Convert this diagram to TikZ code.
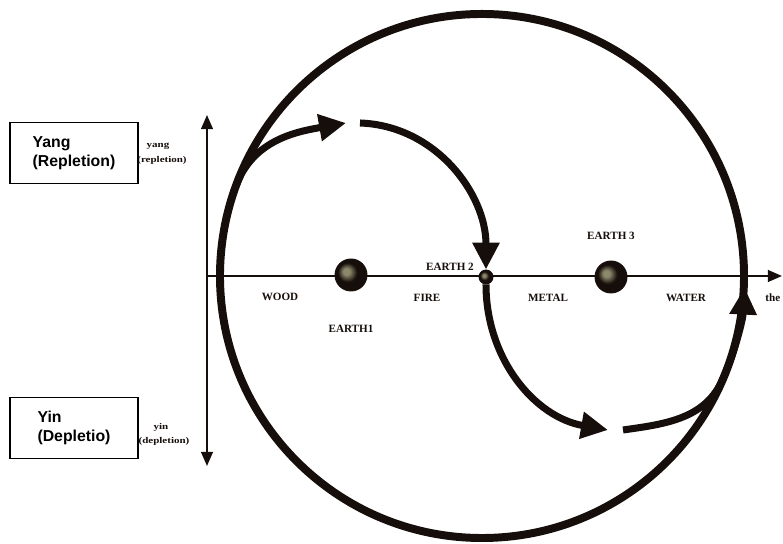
\documentclass[tikz,border=0pt]{standalone}
\usepackage{fontspec}
\setmainfont{Liberation Serif}
\setsansfont{Liberation Sans}
\newfontfamily\axisfont[FakeStretch=1.25]{Liberation Serif}
\usetikzlibrary{arrows.meta,positioning}
\definecolor{Ink}{RGB}{22,14,10}
\definecolor{Glint}{RGB}{140,136,108}
\pgfdeclareradialshading{earthball}{\pgfpoint{-8bp}{6bp}}{color(0bp)=(Glint); color(5bp)=(Glint); color(15bp)=(Ink); color(50bp)=(Ink)}
\tikzset{
  wheelring/.style={circle, draw=Ink, line width=6.8pt, minimum size=15.72cm, inner sep=0pt, outer sep=0pt},
  earthdot/.style={circle, shading=earthball, draw=Ink, line width=0.8pt, inner sep=0pt, minimum size=0.96cm},
  elem/.style={font=\fontsize{9.5}{11}\selectfont\bfseries, text=Ink, inner sep=1pt},
  axislab/.style={font=\axisfont\fontsize{7.5}{8}\selectfont\bfseries, text=Ink, inner sep=0pt},
  sidebox/.style={draw=black, line width=1.4pt, fill=white, align=left, text=black,
    font=\sffamily\bfseries\fontsize{13.5}{16}\selectfont, minimum width=3.84cm, minimum height=1.83cm, inner sep=2pt},
  axisline/.style={draw=Ink, line width=1.6pt},
  cyclearr/.style={-{Triangle[length=23pt,width=22pt]}, draw=Ink, line width=6pt},
}

\begin{document}
\begin{tikzpicture}[x=0.03cm, y=0.03cm]
\useasboundingbox (0,0) rectangle (783,544);

% ================= axes =================
\coordinate (origin) at (207,268);
\coordinate (yangend) at (207,429);
\coordinate (yinend) at (207,78);
\coordinate (thetaend) at (782,268);
\draw[axisline, {Triangle[length=12pt,width=10pt]}-{Triangle[length=12pt,width=10pt]}] (yinend) -- (yangend);
\draw[axisline, -{Triangle[length=12pt,width=10pt]}] (origin) -- (thetaend);

% ================= the wheel and the earth points =================
\node[wheelring] (wheel) at (482,268) {};
\node[earthdot] (earthA) at (351,269) {};
\node[earthdot, minimum size=0.42cm] (earthB) at (486,267) {};
\node[earthdot] (earthC) at (611,267) {};

% element labels along the axis
\node[elem] (wood) at (280,247) {WOOD};
\node[elem] (fire) at (427,246) {FIRE};
\node[elem] (metal) at (548,246) {METAL};
\node[elem] (water) at (686,246) {WATER};
\node[elem, below=0.98cm of earthA] (earthAlab) {EARTH1};
\node[elem] (earthBlab) at (450,277) {EARTH 2};
\node[elem, above=0.6cm of earthC] (earthClab) {EARTH 3};
\node[elem, anchor=west] (thetalab) at (764,246) {the};

% ================= the S-shaped cycle =================
\coordinate (yangtip) at (346,421);
\coordinate (yangtop) at (360,421);
\coordinate (yintip) at (608,114);
\coordinate (yinlow) at (623,114);

\draw[cyclearr] (wheel.160) to[out=70,in=190] (yangtip);
\draw[cyclearr] (yangtop) to[out=-2,in=90] (earthB.north);
\draw[cyclearr] (earthB.south) to[out=-90,in=170] (yintip);
\draw[cyclearr] (yinlow) to[out=8,in=-113.5] (wheel.-23.5)
  arc[start angle=-23.5, end angle=-3, radius=262];

% ================= yang / yin side =================
\node[axislab] (yanglab) at (158,398) {yang};
\node[axislab] (replab) at (162,384) {(repletion)};
\node[axislab] (yinlab) at (161,117) {yin};
\node[axislab] (deplab) at (164,103) {(depletion)};

\node[sidebox] (yangbox) at (74,391) {Yang\\(Repletion)};
\node[sidebox] (yinbox) at (74,116) {Yin\\(Depletio)};

\end{tikzpicture}
\end{document}
